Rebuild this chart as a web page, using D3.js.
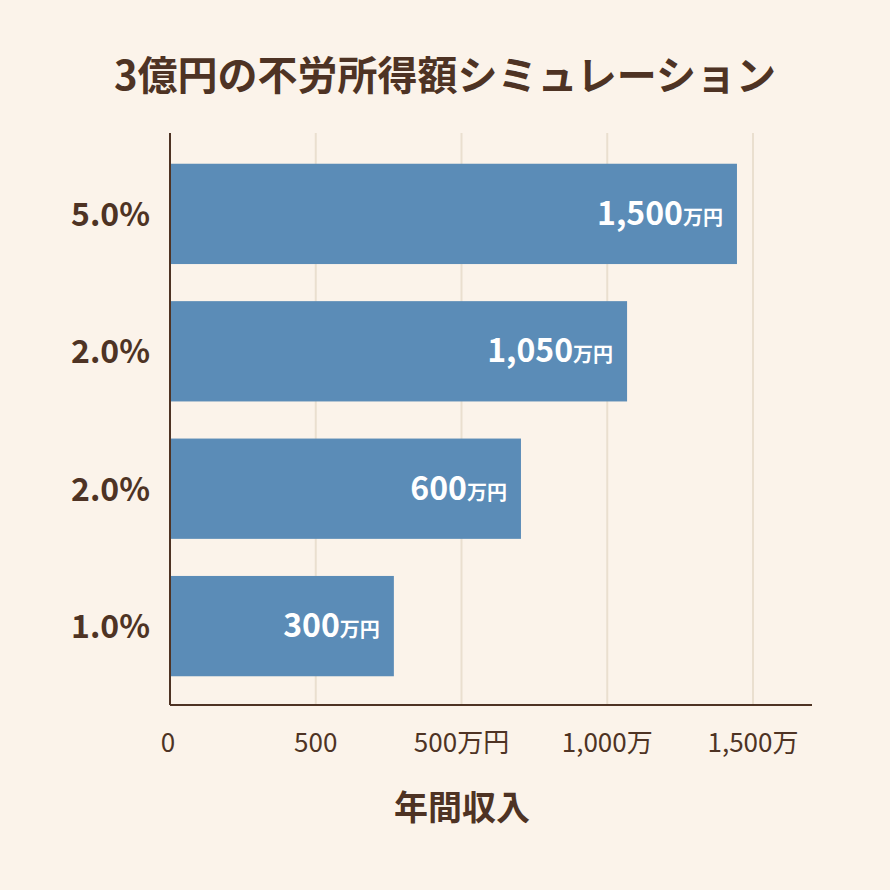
<!DOCTYPE html>
<html><head><meta charset="utf-8">
<script src="https://cdn.jsdelivr.net/npm/d3@7"></script>
<style>body{margin:0;background:#fbf3ea}</style>
</head><body>
<script>
var rates = ['5.0%', '2.0%', '2.0%', '1.0%']
var barValues = [1945, 1568, 1204, 768]
var valueLabels = ['1,500', '1,050', '600', '300']
var tickValues = [0, 500, 1000, 1500, 2000]
var tickLabels = ['0', '500', '500万円', '1,000万', '1,500万']

var width = 890, height = 890
var font = '"Noto Sans CJK JP", "Noto Sans", sans-serif'
var brown = '#4e3324'

var svg = d3.select('body').append('svg')
        .attr('width', width).attr('height', height)
        .style('font-family', font)

svg.append('rect').attr('width', width).attr('height', height).attr('fill', '#fbf3ea')

svg.append('text').attr('x', 445).attr('y', 90).attr('text-anchor', 'middle')
        .attr('font-size', 40).attr('font-weight', 700).attr('fill', brown)
        .text('3億円の不労所得額シミュレーション')

var x = d3.scaleLinear().domain([0, 2000]).range([170, 753])
var y = d3.scaleBand().domain(d3.range(rates.length)).range([150, 690]).paddingInner(0.27).paddingOuter(0.1)

svg.selectAll('.grid').data(tickValues.slice(1)).enter().append('line')
        .attr('x1', x).attr('x2', x).attr('y1', 133).attr('y2', 705)
        .attr('stroke', '#eadfcf').attr('stroke-width', 2)

svg.selectAll('.bar').data(barValues).enter().append('rect')
        .attr('x', x(0)).attr('y', function (d, i) { return y(i) })
        .attr('width', function (d) { return x(d) - x(0) })
        .attr('height', y.bandwidth()).attr('fill', '#5b8cb7')

var vl = svg.selectAll('.vl').data(barValues).enter().append('text')
        .attr('x', function (d) { return x(d) - 14 })
        .attr('y', function (d, i) { return y(i) + y.bandwidth() / 2 + 11 })
        .attr('text-anchor', 'end').attr('fill', '#fff').attr('font-weight', 700)
vl.append('tspan').attr('font-size', 32).text(function (d, i) { return valueLabels[i] })
vl.append('tspan').attr('font-size', 20).text('万円')

svg.selectAll('.yl').data(rates).enter().append('text')
        .attr('x', 150).attr('y', function (d, i) { return y(i) + y.bandwidth() / 2 + 12 })
        .attr('text-anchor', 'end').attr('font-size', 32).attr('font-weight', 700)
        .attr('fill', brown).text(function (d) { return d })

svg.append('line').attr('x1', 170).attr('x2', 170).attr('y1', 133).attr('y2', 705)
        .attr('stroke', brown).attr('stroke-width', 2)
svg.append('line').attr('x1', 170).attr('x2', 812).attr('y1', 705).attr('y2', 705)
        .attr('stroke', brown).attr('stroke-width', 2)

svg.selectAll('.xl').data(tickValues).enter().append('text')
        .attr('x', function (d, i) { return i === 0 ? x(d) - 2 : x(d) })
        .attr('y', 752).attr('text-anchor', 'middle').attr('font-size', 26)
        .attr('fill', brown).text(function (d, i) { return tickLabels[i] })

svg.append('text').attr('x', 462).attr('y', 820).attr('text-anchor', 'middle')
        .attr('font-size', 34).attr('font-weight', 700).attr('fill', brown).text('年間収入')
</script>
</body></html>
